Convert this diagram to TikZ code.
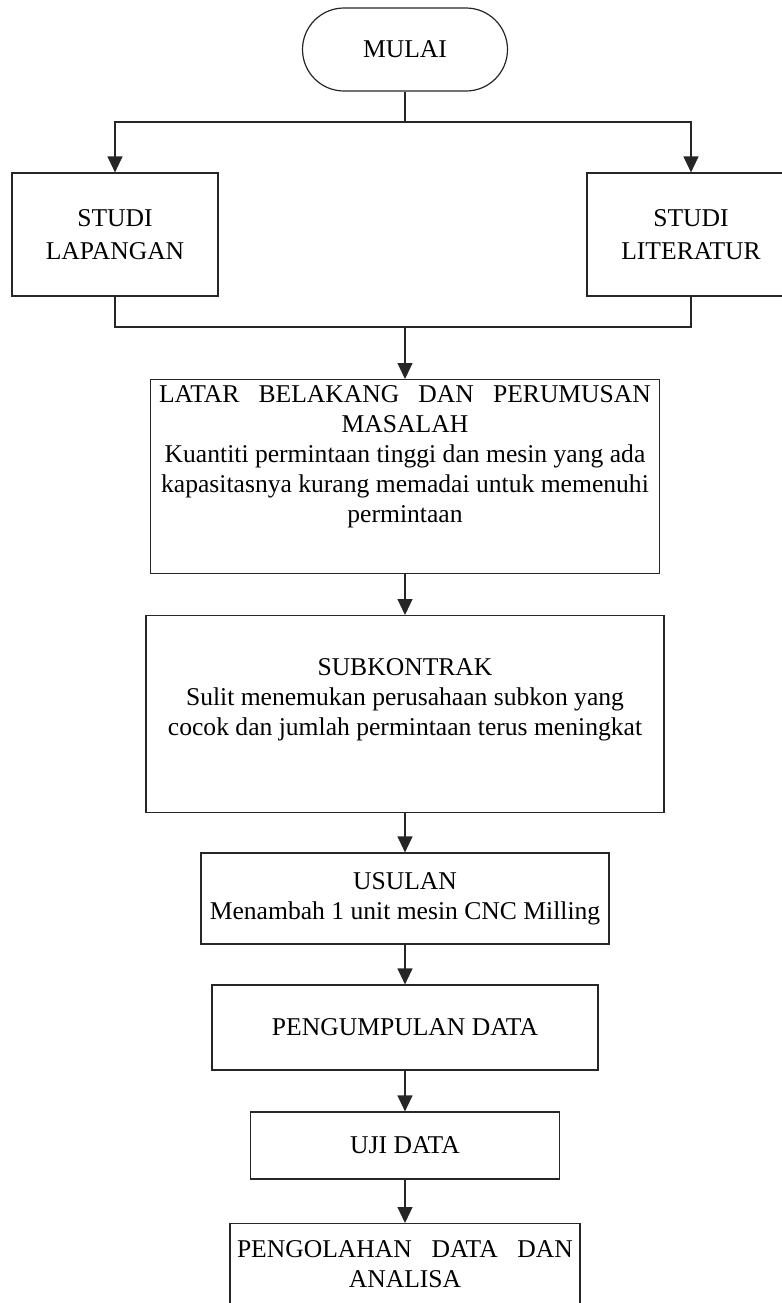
\documentclass[tikz,border=0pt]{standalone}
\usepackage{fontspec}
\setmainfont{Liberation Serif}
\usetikzlibrary{arrows.meta,positioning}

\begin{document}
\begin{tikzpicture}[x=0.5pt, y=-0.5pt,
    box/.style={draw=black!85, line width=0.6pt, align=flush center, font=\fontsize{12.8}{15}\selectfont},
    term/.style={box, rounded corners=20.75pt, minimum width=102.5pt, minimum height=41.5pt},
    topbox/.style={box, anchor=north, inner ysep=0pt},
    arr/.style={-{Triangle[length=8pt, width=7.5pt]}, draw=black!85, line width=0.6pt},
    ln/.style={draw=black!85, line width=0.6pt}
]
\useasboundingbox (0,0) rectangle (782,1303);
\clip (0,0) rectangle (782,1303);

\node[term] (mulai) at (405,49.5) {MULAI};
\node[box, minimum width=103pt, minimum height=61.5pt, font=\fontsize{12.8}{16.5}\selectfont] (lap) at (115,234.5) {STUDI\\LAPANGAN};
\node[box, minimum width=104pt, minimum height=61.5pt, font=\fontsize{12.8}{16.5}\selectfont] (lit) at (691,234.5) {STUDI\\LITERATUR};
\node[topbox, text width=246pt, inner xsep=4.25pt, text height=11.5pt, text depth=85.5pt] (latar) at (405,379)
    {\makebox[246pt][s]{LATAR BELAKANG DAN PERUMUSAN}\\MASALAH\\Kuantiti permintaan tinggi dan mesin yang ada\\kapasitasnya kurang memadai untuk memenuhi\\permintaan};
\node[topbox, text width=250pt, inner xsep=4.5pt, text height=30pt, text depth=68.5pt] (sub) at (405,615)
    {SUBKONTRAK\\Sulit menemukan perusahaan subkon yang\\cocok dan jumlah permintaan terus meningkat};
\node[box, minimum width=204pt, minimum height=45.5pt] (usul) at (405,898.5) {USULAN\\Menambah 1 unit mesin CNC Milling};
\node[box, minimum width=193pt, minimum height=42.5pt] (kumpul) at (405,1027.5) {PENGUMPULAN DATA};
\node[box, minimum width=154.5pt, minimum height=33.5pt] (uji) at (405,1145.5) {UJI DATA};
\node[topbox, text width=168pt, inner xsep=3.5pt, text height=17pt, text depth=60pt] (olah) at (405,1223)
    {\makebox[168pt][s]{PENGOLAHAN DATA DAN}\\ANALISA};

\coordinate (split) at (405,122);
\coordinate (merge) at (405,327);
\draw[ln] (mulai) -- (split);
\draw[arr] (split) -| (lap);
\draw[arr] (split) -| (lit);
\draw[ln] (lap) |- (merge);
\draw[ln] (lit) |- (merge);
\draw[arr] (merge) -- (latar);
\draw[arr] (latar) -- (sub);
\draw[arr] (sub) -- (usul);
\draw[arr] (usul) -- (kumpul);
\draw[arr] (kumpul) -- (uji);
\draw[arr] (uji) -- (olah);
\end{tikzpicture}
\end{document}
